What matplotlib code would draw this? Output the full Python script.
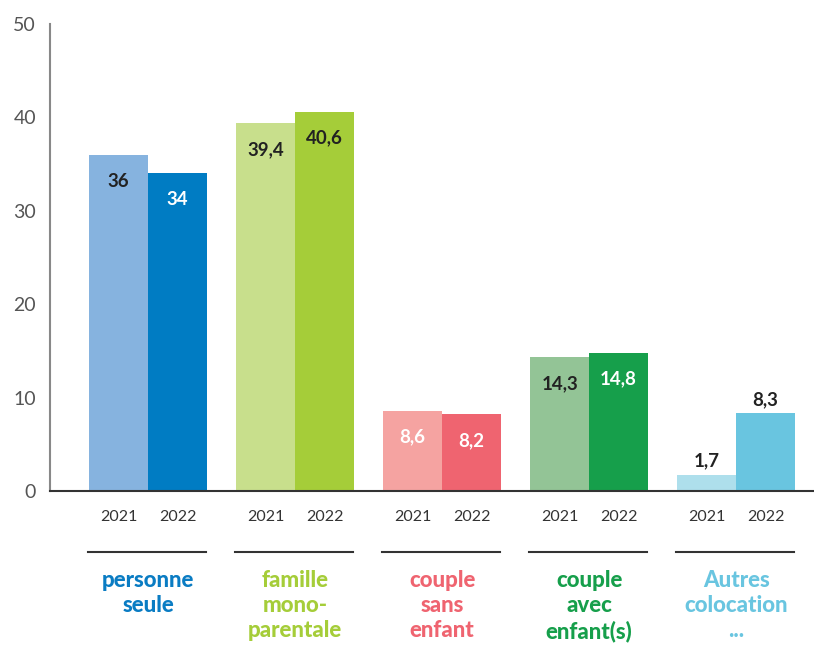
import matplotlib.pyplot as plt
import numpy as np

# données : part des ménages par type (%)
categories = ['personne\nseule', 'famille\nmono-\nparentale', 'couple\nsans\nenfant',
              'couple\navec\nenfant(s)', 'Autres\ncolocation\n...']
annees = ['2021', '2022']
val_2021 = [36, 39.4, 8.6, 14.3, 1.7]
val_2022 = [34, 40.6, 8.2, 14.8, 8.3]

couleurs_2021 = ['#86b3df', '#c8df8c', '#f5a3a1', '#93c496', '#aedfec']
couleurs_2022 = ['#007cc3', '#a5cd39', '#ef6470', '#169f4b', '#69c5e0']
couleurs_texte = ['#0a7cc3', '#a5cd39', '#ef6470', '#169f4b', '#69c5e0']

# couleur des étiquettes de valeur et position (dedans / au-dessus)
txt_2021 = ['#222222', '#222222', 'white', '#222222', '#222222']
txt_2022 = ['white', '#222222', 'white', 'white', '#222222']
dehors_2021 = [False, False, False, False, True]
dehors_2022 = [False, False, False, False, True]

plt.rcParams['font.family'] = ['Lato', 'DejaVu Sans']

fig = plt.figure(figsize=(8.14, 6.46), dpi=100)
ax = fig.add_axes([50 / 814, 155 / 646, 764 / 814, 467 / 646])

x = np.arange(len(categories))
bw = 0.401

b1 = ax.bar(x - bw / 2, val_2021, bw, color=couleurs_2021)
b2 = ax.bar(x + bw / 2, val_2022, bw, color=couleurs_2022)


def fmt(v):
    return f'{v:g}'.replace('.', ',')


for bars, vals, cols, dehors in [(b1, val_2021, txt_2021, dehors_2021),
                                 (b2, val_2022, txt_2022, dehors_2022)]:
    for b, v, c, d in zip(bars, vals, cols, dehors):
        dy = 10 if d else -19
        ax.annotate(fmt(v), (b.get_x() + b.get_width() / 2, v),
                    xytext=(0, dy), textcoords='offset points',
                    ha='center', va='center', fontsize=13.5,
                    fontweight='bold', color=c)

ax.set_xlim(-0.667, 4.53)
ax.set_ylim(0, 50)
ax.set_yticks([0, 10, 20, 30, 40, 50])
ax.tick_params(axis='y', length=0, pad=10, labelsize=14, labelcolor='#555555')

ticks = np.concatenate([x - bw / 2, x + bw / 2])
ax.set_xticks(ticks)
ax.set_xticklabels([annees[0]] * len(x) + [annees[1]] * len(x))
ax.tick_params(axis='x', length=0, pad=14, labelsize=11.5, labelcolor='#333333')

for s in ['top', 'right']:
    ax.spines[s].set_visible(False)
ax.spines['left'].set_color('#888888')
ax.spines['left'].set_linewidth(1.5)
ax.spines['bottom'].set_color('#333333')
ax.spines['bottom'].set_linewidth(1.5)

# traits de séparation et noms des catégories sous l'axe
tr = ax.get_xaxis_transform()
for xi, nom, col in zip(x, categories, couleurs_texte):
    ax.plot([xi - bw - 0.01, xi + bw - 0.01], [-0.131, -0.131], transform=tr,
            color='#333333', lw=1.5, clip_on=False)
    ax.text(xi, -0.170, nom, transform=tr, ha='center', va='top',
            fontsize=16, fontweight='black', color=col, linespacing=1.22)

fig.savefig('out.png', dpi=100)
